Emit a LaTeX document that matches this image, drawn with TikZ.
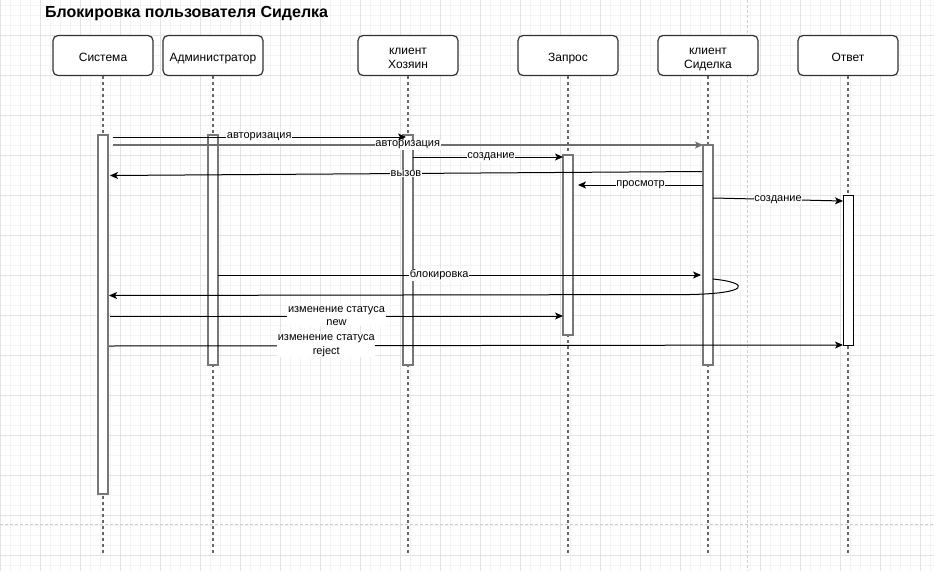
\documentclass[tikz,border=0pt]{standalone}
\usepackage{fontspec}
\setmainfont{Liberation Sans}
\usetikzlibrary{arrows.meta,calc}
\definecolor{gridminor}{HTML}{F3F3F3}
\definecolor{gridmajor}{HTML}{E3E3E3}
\definecolor{boxline}{HTML}{333333}
\definecolor{barline}{HTML}{777777}
\definecolor{lifegray}{HTML}{666666}
\definecolor{pagebreak}{HTML}{CCCCCC}
\definecolor{msggray}{HTML}{6E6E6E}
\begin{document}
\begin{tikzpicture}[x=1pt,y=-1pt,
  actor/.style={draw=boxline, line width=1.2pt, rounded corners=5pt, minimum width=100pt, minimum height=40pt, inner sep=0pt, align=center, font=\fontsize{12}{14}\selectfont, fill=white, text height=11.5pt, text depth=0pt},
  actortwo/.style={actor, text height=25pt, text depth=0pt},
  lifeline/.style={draw=lifegray, line width=1.3pt, dash pattern=on 3pt off 3pt},
  bar/.style={draw=barline, line width=1.6pt, fill=white, minimum width=10pt, inner sep=0pt, outer sep=0pt},
  barthin/.style={bar, draw=black, line width=1pt},
  msg/.style={draw=black, line width=1pt, -{Stealth[length=8pt,width=7pt,inset=2pt]}},
  msggrey/.style={msg, draw=msggray, line width=2pt},
  lbl/.style={fill=white, inner sep=0.6pt, font=\fontsize{11}{13.5}\selectfont, align=center},
  gminor/.style={draw=gridminor, line width=0.8pt},
  gmajor/.style={draw=gridmajor, line width=0.9pt},
  pbreak/.style={draw=pagebreak, line width=0.8pt, dash pattern=on 2.5pt off 2.5pt}
]
\useasboundingbox (0,0) rectangle (934,571);
\fill[white] (0,0) rectangle (934,571);
% grid
\foreach \i in {10,20,...,930} \draw[gminor] (\i,0) -- (\i,571);
\foreach \j in {5,15,...,565} \draw[gminor] (0,\j) -- (934,\j);
\foreach \i in {0,40,...,920} \draw[gmajor] (\i,0) -- (\i,571);
\foreach \j in {35,75,...,555} \draw[gmajor] (0,\j) -- (934,\j);
% page breaks
\coordinate (pbT) at (747.5,0);
\coordinate (pbB) at (747.5,571);
\coordinate (pbL) at (0,524.5);
\coordinate (pbR) at (934,524.5);
\draw[pbreak] (pbT) -- (pbB);
\draw[pbreak] (pbL) -- (pbR);
% title
\node[anchor=base west, inner sep=0pt, font=\bfseries\fontsize{16}{19}\selectfont] (title) at (45,17.5) {Блокировка пользователя Сиделка};
% actors
\node[actor] (sys) at (103,55.5) {Система};
\node[actor] (adm) at (213,55.5) {Администратор};
\node[actortwo] (own) at (408,55.5) {клиент\\Хозяин};
\node[actor] (req) at (568,55.5) {Запрос};
\node[actortwo] (nur) at (708,55.5) {клиент\\Сиделка};
\node[actor] (ans) at (848,55.5) {Ответ};
% lifelines
\coordinate (sysE) at (103,553);
\coordinate (admE) at (213,553);
\coordinate (ownE) at (408,553);
\coordinate (reqE) at (568,553);
\coordinate (nurE) at (708,553);
\coordinate (ansE) at (848,553);
\draw[lifeline] (sys.south) -- (sysE);
\draw[lifeline] (adm.south) -- (admE);
\draw[lifeline] (own.south) -- (ownE);
\draw[lifeline] (req.south) -- (reqE);
\draw[lifeline] (nur.south) -- (nurE);
\draw[lifeline] (ans.south) -- (ansE);
% activation bars
\node[bar, minimum height=359pt] (sysb) at (103,314.5) {};
\node[bar, minimum height=230pt] (admb) at (213,250) {};
\node[bar, minimum height=230pt] (ownb) at (408,250) {};
\node[bar, minimum height=180pt] (reqb) at (568,245) {};
\node[bar, minimum height=220pt] (nurb) at (708,255) {};
\node[barthin, minimum height=150pt] (ansb) at (848,270) {};
% messages
\draw[msg] ($(sysb.east|-0,137)+(4.5,0)$) -- node[lbl, pos=0.5] {авторизация} ($(ownb.west|-0,137)+(3,0)$);
\draw[msggrey] ($(sysb.east|-0,145)+(4.5,0)$) -- node[lbl, pos=0.5] {авторизация} (nurb.west|-0,145);
\draw[msg] (ownb.east|-0,157) -- node[lbl, pos=0.52] {создание} (reqb.west|-0,157);
\draw[msg] ($(nurb.west|-0,171.5)+(-1,0)$) -- node[lbl, pos=0.5] {вызов} ($(sysb.east|-0,175.5)+(2,0)$);
\draw[msg] (nurb.west|-0,185) -- node[lbl, pos=0.5] {просмотр} ($(reqb.east|-0,185)+(5,0)$);
\draw[msg] (nurb.east|-0,198) -- node[lbl, pos=0.5] {создание} (ansb.west|-0,201);
\draw[msg] (admb.east|-0,275) -- node[lbl, pos=0.458] {блокировка} ($(nurb.west|-0,275)+(-2,0)$);
\draw[msg] (nurb.east|-0,279) .. controls (752,283) and (748,293.5) .. (690,294.5) -- ($(sysb.east|-0,295.5)+(1,0)$);
\draw[msg] ($(sysb.east|-0,316)+(2,0)$) -- node[lbl, pos=0.5] {изменение статуса\\new} (reqb.west|-0,316);
\draw[msg] ($(sysb.east|-0,346)+(1,0)$) -- node[lbl, pos=0.296] {изменение статуса\\reject} (ansb.west|-0,345);
\end{tikzpicture}
\end{document}
